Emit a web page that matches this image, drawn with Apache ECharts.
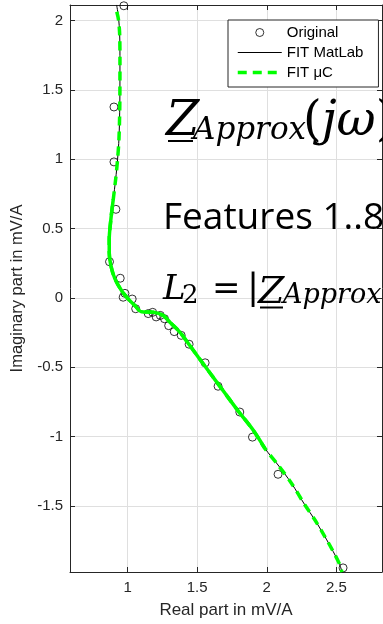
<!DOCTYPE html>
<html>
<head>
<meta charset="utf-8">
<script src="https://cdn.jsdelivr.net/npm/echarts@6/dist/echarts.min.js"></script>
<style>
html, body { margin: 0; padding: 0; background: #fff; }
#main { width: 383px; height: 624px; }
</style>
</head>
<body>
<div id="main"></div>
<script>
// axis ticks / limits
var xTicks = [1, 1.5, 2, 2.5];
var yTicks = [-1.5, -1, -0.5, 0, 0.5, 1, 1.5, 2];
var xRange = [0.5861, 2.8278];
var yRange = [-1.9767, 2.1126];

// measured impedance (real / imaginary, mV/A)
var origRe = [0.973, 0.902, 0.902, 0.916, 0.870, 0.947, 0.981, 0.968, 1.033, 1.058, 1.148, 1.180, 1.205,
  1.235, 1.265, 1.295, 1.335, 1.385, 1.442, 1.557, 1.650, 1.806, 1.897, 2.081, 2.548];
var origIm = [2.107, 1.377, 0.981, 0.639, 0.261, 0.142, 0.033, 0.005, -0.008, -0.078, -0.113, -0.104, -0.137,
  -0.126, -0.150, -0.200, -0.243, -0.270, -0.334, -0.468, -0.637, -0.823, -1.004, -1.272, -1.947];

// fit from MatLab
var fitMatRe = [0.921, 0.934, 0.943, 0.945, 0.944, 0.938, 0.928, 0.914, 0.897, 0.880, 0.868, 0.868, 0.880,
  0.909, 0.957, 1.004, 1.052, 1.100, 1.184, 1.256, 1.304, 1.375, 1.447, 1.507, 1.600, 1.700, 1.800, 1.902,
  1.986, 2.081, 2.177, 2.273, 2.345, 2.416, 2.476, 2.524, 2.540];
var fitMatIm = [2.113, 2.030, 1.900, 1.700, 1.400, 1.150, 1.000, 0.855, 0.711, 0.568, 0.424, 0.328, 0.232,
  0.137, 0.052, -0.007, -0.055, -0.100, -0.103, -0.127, -0.175, -0.246, -0.343, -0.426, -0.552, -0.688,
  -0.823, -0.953, -1.085, -1.205, -1.336, -1.492, -1.600, -1.719, -1.827, -1.923, -1.977];

// fit from the microcontroller
var fitMcRe = [0.922, 0.934, 0.943, 0.945, 0.944, 0.938, 0.928, 0.914, 0.897, 0.880, 0.868, 0.868, 0.880,
  0.909, 0.957, 1.004, 1.052, 1.100, 1.184, 1.256, 1.304, 1.375, 1.447, 1.507, 1.600, 1.700, 1.800, 1.902,
  1.986, 2.081, 2.177, 2.273, 2.345, 2.416, 2.476, 2.524, 2.540];
var fitMcIm = [2.064, 2.010, 1.900, 1.700, 1.400, 1.150, 1.000, 0.855, 0.711, 0.568, 0.424, 0.328, 0.232,
  0.137, 0.052, -0.007, -0.055, -0.100, -0.103, -0.127, -0.175, -0.246, -0.343, -0.426, -0.552, -0.688,
  -0.823, -0.953, -1.085, -1.205, -1.336, -1.492, -1.600, -1.719, -1.827, -1.923, -1.977];
var mcSolid = [8, 28]; // dense part of the uC line looks solid

var names = ['Original', 'FIT MatLab', 'FIT \u03bcC'];

function pairs(a, b) {
  return a.map(function (v, i) { return [v, b[i]]; });
}

var axCol = '#262626';
var sans = 'Liberation Sans, Arial, sans-serif';
var mathF = 'DejaVu Serif';
var noDot = { color: 'rgba(0,0,0,0)', borderWidth: 0 };

var myChart = echarts.init(document.getElementById('main'));

function boxAxis(pos, ticks, range, extra) {
  var a = {
    type: 'value',
    position: pos,
    min: range[0],
    max: range[1],
    axisLine: { show: true, onZero: false, lineStyle: { color: axCol, width: 1 } },
    axisTick: { show: true, inside: true, length: 5, customValues: ticks, lineStyle: { color: axCol } },
    axisLabel: { show: false },
    splitLine: { show: false }
  };
  return Object.assign(a, extra || {});
}

var option = {
  animation: false,
  backgroundColor: '#fff',
  grid: { left: 70, right: 1, top: 5, bottom: 50 },
  xAxis: [
    boxAxis('bottom', xTicks, xRange, {
      axisLabel: { show: true, customValues: xTicks, color: axCol, fontSize: 15, fontFamily: sans, margin: 8 },
      splitLine: { show: true, lineStyle: { color: '#dfdfdf', width: 1 } },
      name: 'Real part in mV/A',
      nameLocation: 'middle',
      nameGap: 30,
      nameTextStyle: { color: axCol, fontSize: 17, fontFamily: sans }
    }),
    boxAxis('top', xTicks, xRange)
  ],
  yAxis: [
    boxAxis('left', yTicks, yRange, {
      axisLabel: { show: true, customValues: yTicks, color: axCol, fontSize: 15, fontFamily: sans, margin: 7 },
      splitLine: { show: true, lineStyle: { color: '#dfdfdf', width: 1 } },
      name: 'Imaginary part in mV/A',
      nameLocation: 'middle',
      nameGap: 42,
      nameTextStyle: { color: axCol, fontSize: 16.5, fontFamily: sans }
    }),
    boxAxis('right', yTicks, yRange)
  ],
  legend: {
    data: [
      { name: names[0], icon: 'circle' },
      { name: names[1], itemStyle: noDot },
      { name: names[2], itemStyle: noDot }
    ],
    orient: 'vertical',
    left: 228,
    top: 20,
    padding: [5, 15, 7, 8],
    itemWidth: 44,
    itemHeight: 8,
    itemGap: 5,
    itemTextGap: 5,
    borderColor: axCol,
    borderWidth: 1,
    backgroundColor: '#fff',
    selectedMode: false,
    itemStyle: { borderWidth: 'inherit' },
    lineStyle: { width: 'inherit' },
    textStyle: { fontFamily: sans, fontSize: 15, color: '#000', lineHeight: 14.5 }
  },
  graphic: [
    // Z_Approx(jw)
    { type: 'text', x: 166, y: 123, z: 100, style: { text: 'Z', fontFamily: mathF, fontStyle: 'italic', fontSize: 48, fill: '#000', verticalAlign: 'middle' } },
    { type: 'rect', z: 100, shape: { x: 168, y: 140, width: 25, height: 2 }, style: { fill: '#000' } },
    { type: 'text', x: 193, y: 131, z: 100, style: { text: 'Approx', fontFamily: mathF, fontStyle: 'italic', fontSize: 31, fill: '#000', verticalAlign: 'middle' } },
    { type: 'text', x: 303, y: 123, z: 100, style: { text: '{p|(}{v|j\u03c9}{p|)}', verticalAlign: 'middle',
      rich: { p: { fontFamily: mathF, fontSize: 48, fill: '#000' }, v: { fontFamily: mathF, fontStyle: 'italic', fontSize: 48, fill: '#000' } } } },
    // Features
    { type: 'text', x: 163, y: 218, z: 100, style: { text: 'Features 1..8', fontFamily: 'Open Sans', fontSize: 37, fill: '#000', verticalAlign: 'middle' } },
    // L2 = |Z_Approx
    { type: 'text', x: 163, y: 290, z: 100, style: { text: 'L', fontFamily: mathF, fontStyle: 'italic', fontSize: 34, fill: '#000', verticalAlign: 'middle' } },
    { type: 'text', x: 182, y: 296, z: 100, style: { text: '2', fontFamily: mathF, fontSize: 26, fill: '#000', verticalAlign: 'middle' } },
    { type: 'text', x: 212, y: 290, z: 100, style: { text: '=', fontFamily: mathF, fontSize: 34, fill: '#000', verticalAlign: 'middle' } },
    { type: 'text', x: 247, y: 290, z: 100, style: { text: '|', fontFamily: mathF, fontSize: 36, fill: '#000', verticalAlign: 'middle' } },
    { type: 'text', x: 258, y: 293, z: 100, style: { text: 'Z', fontFamily: mathF, fontStyle: 'italic', fontSize: 38, fill: '#000', verticalAlign: 'middle' } },
    { type: 'rect', z: 100, shape: { x: 260, y: 306.5, width: 23, height: 2 }, style: { fill: '#000' } },
    { type: 'text', x: 283, y: 296, z: 100, style: { text: 'Approx', fontFamily: mathF, fontStyle: 'italic', fontSize: 27, fill: '#000', verticalAlign: 'middle' } }
  ],
  series: [
    {
      name: names[0],
      type: 'scatter',
      data: pairs(origRe, origIm),
      symbol: 'circle',
      symbolSize: 8,
      itemStyle: { color: 'rgba(0,0,0,0)', borderColor: '#000', borderWidth: 1 },
      z: 2
    },
    {
      name: names[1],
      type: 'line',
      data: pairs(fitMatRe, fitMatIm),
      showSymbol: false,
      symbol: 'none',
      smooth: 0.3,
      lineStyle: { color: '#000', width: 1 },
      itemStyle: { color: '#000' },
      z: 3
    },
    {
      name: names[2],
      type: 'line',
      data: pairs(fitMcRe, fitMcIm),
      showSymbol: false,
      symbol: 'none',
      smooth: 0.3,
      lineStyle: { color: '#00ff00', width: 3.5, type: [9, 6] },
      itemStyle: { color: '#00ff00' },
      z: 4
    },
    {
      name: names[2],
      type: 'line',
      data: pairs(fitMcRe, fitMcIm).slice(mcSolid[0], mcSolid[1] + 1),
      showSymbol: false,
      symbol: 'none',
      smooth: 0.3,
      lineStyle: { color: '#00ff00', width: 3.5 },
      itemStyle: { color: '#00ff00' },
      z: 4
    }
  ]
};

myChart.setOption(option);
window.addEventListener('resize', function () {
  myChart.resize();
});
</script>
</body>
</html>
